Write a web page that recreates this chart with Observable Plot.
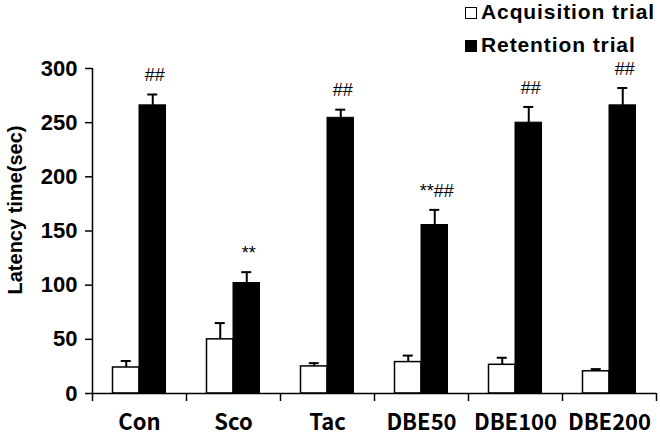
<!DOCTYPE html>
<html>
<head>
<meta charset="utf-8">
<script src="https://cdn.jsdelivr.net/npm/d3@7"></script>
<script src="https://cdn.jsdelivr.net/npm/@observablehq/plot@0.6"></script>
<style>
  html, body { margin: 0; padding: 0; background: #fff; }
  #wrap { width: 660px; position: relative; }
  #legend { position: relative; height: 57px; width: 660px; font-family: "Liberation Sans", Arial, sans-serif; font-weight: bold; font-size: 21px; letter-spacing: 0.9px; color: #000; }
  .item { position: absolute; left: 465px; line-height: 21px; white-space: nowrap; }
  .sw { display: inline-block; width: 12px; height: 12px; box-sizing: border-box; border: 1.5px solid #000; margin-right: 4px; vertical-align: 0px; }
</style>
</head>
<body>
<div id="wrap">
  <div id="legend"></div>
  <div id="chart"></div>
</div>
<script>
const categories = ["Con", "Sco", "Tac", "DBE50", "DBE100", "DBE200"];
const acquisition = [24, 50, 25, 29, 26.5, 20.5];
const acquisitionErr = [6, 15, 3, 6, 6.5, 2];
const retention = [266, 102, 254.5, 155.5, 250, 266];
const retentionErr = [10, 10, 7.5, 14, 14.5, 16];
const retentionMarks = ["##", "**", "##", "**##", "##", "##"];
const seriesNames = ["Acquisition trial", "Retention trial"];
const seriesFills = ["#fff", "#000"];
const yTicks = [0, 50, 100, 150, 200, 250, 300];
const yTitle = "Latency time(sec)";

// legend
const legend = document.getElementById("legend");
seriesNames.forEach((name, i) => {
  const d = document.createElement("div");
  d.className = "item";
  d.style.top = (i === 0 ? 1 : 34) + "px";
  const sw = document.createElement("span");
  sw.className = "sw";
  sw.style.background = seriesFills[i];
  d.appendChild(sw);
  d.appendChild(document.createTextNode(name));
  legend.appendChild(d);
});

const W = 660, H = 380, mL = 92, mR = 4, mT = 11, mB = 44;
const band = (W - mL - mR) / categories.length;

const acqData = categories.map((c, i) => ({c, v: acquisition[i], e: acquisitionErr[i]}));
const retData = categories.map((c, i) => ({c, v: retention[i], e: retentionErr[i], m: retentionMarks[i]}));

const barW = 26.5, gapOut = 20.5, capW = 10;
const acqL = gapOut, acqR = band - gapOut - barW;
const retL = gapOut + barW, retR = gapOut;
const acqC = gapOut + barW / 2 - band / 2;
const retC = gapOut + barW * 1.5 - band / 2;

const chart = Plot.plot({
  width: W, height: H,
  marginLeft: mL, marginRight: mR, marginTop: mT, marginBottom: mB,
  style: {fontFamily: "'Liberation Sans', Arial, sans-serif", fontSize: "21px", fontWeight: "bold", color: "#000", background: "#fff", overflow: "visible"},
  x: {domain: categories, padding: 0, axis: null},
  y: {domain: [0, 300], axis: null},
  marks: [
    // error bars
    Plot.ruleX(acqData, {x: "c", y1: "v", y2: d => d.v + d.e, dx: acqC, stroke: "#000", strokeWidth: 2}),
    Plot.tickY(acqData, {x: "c", y: d => d.v + d.e, insetLeft: band / 2 + acqC - capW / 2, insetRight: band / 2 - acqC - capW / 2, stroke: "#000", strokeWidth: 2}),
    Plot.ruleX(retData, {x: "c", y1: "v", y2: d => d.v + d.e, dx: retC, stroke: "#000", strokeWidth: 2}),
    Plot.tickY(retData, {x: "c", y: d => d.v + d.e, insetLeft: band / 2 + retC - capW / 2, insetRight: band / 2 - retC - capW / 2, stroke: "#000", strokeWidth: 2}),
    // bars
    Plot.barY(acqData, {x: "c", y: "v", fill: seriesFills[0], stroke: "#000", strokeWidth: 1.5, insetLeft: acqL, insetRight: acqR}),
    Plot.barY(retData, {x: "c", y: "v", fill: seriesFills[1], stroke: "#000", strokeWidth: 1, insetLeft: retL, insetRight: retR}),
    // significance marks
    Plot.text(retData, {x: "c", y: d => d.v + d.e, text: "m", dx: retC + 2, dy: -19, fontSize: 18, fontWeight: "normal", fill: "#000"}),
    // axes lines
    Plot.ruleY([0], {stroke: "#000", strokeWidth: 1.5}),
    Plot.ruleX([categories[0]], {x: d => d, dx: -band / 2, stroke: "#000", strokeWidth: 1.5}),
    // x boundary ticks
    Plot.ruleX(categories, {x: d => d, dx: -band / 2, insetTop: H - mT - mB - 8, dy: 8, stroke: "#000", strokeWidth: 1.5}),
    Plot.ruleX([categories[categories.length - 1]], {x: d => d, dx: band / 2, insetTop: H - mT - mB - 8, dy: 8, stroke: "#000", strokeWidth: 1.5}),
    // x labels
    Plot.text(categories, {x: d => d, frameAnchor: "bottom", dy: 36, text: d => d, fontFamily: "'Noto Sans CJK KR', 'Noto Sans', sans-serif", fontSize: 22, fontWeight: "bold", fill: "#000", letterSpacing: 0.7}),
    // y axis
    Plot.axisY(yTicks, {ticks: yTicks, tickSize: 7, tickPadding: 8, stroke: "#000", strokeWidth: 1.5, fill: "#000", fontSize: 22, label: null}),
    // y title
    Plot.text([yTitle], {frameAnchor: "left", textAnchor: "middle", text: d => d, rotate: -90, dx: -77, dy: -21, fontSize: 20, fontWeight: "bold", fill: "#000", letterSpacing: 3})
  ]
});
document.getElementById("chart").appendChild(chart);
</script>
</body>
</html>
